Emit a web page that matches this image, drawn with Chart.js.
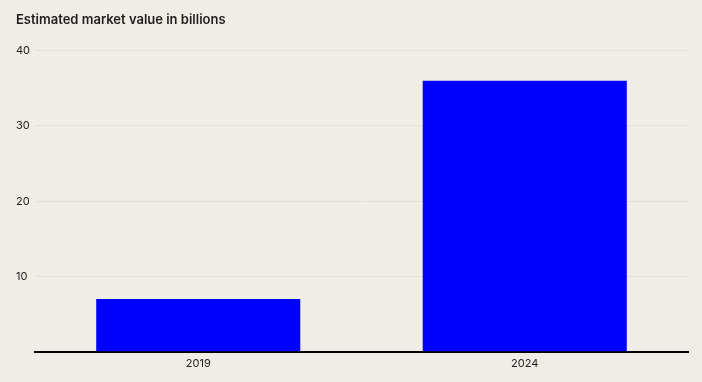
<!DOCTYPE html>
<html>
<head>
<meta charset="utf-8">
<script src="https://cdn.jsdelivr.net/npm/chart.js@4"></script>
<style>
  html, body { margin: 0; padding: 0; background: #f0ede6; }
  #wrap { width: 702px; height: 382px; position: relative; }
</style>
</head>
<body>
<div id="wrap"><canvas id="chart"></canvas></div>
<script>
// Data
const years = ["2019", "2024"];
const marketValue = [7, 36];
const yTicks = [0, 10, 20, 30, 40];

const ctx = document.getElementById("chart").getContext("2d");
new Chart(ctx, {
  type: "bar",
  data: {
    labels: years,
    datasets: [{
      data: marketValue,
      backgroundColor: "#0000ff",
      borderWidth: 0,
      categoryPercentage: 1,
      barPercentage: 0.625,
    }],
  },
  options: {
    responsive: true,
    maintainAspectRatio: false,
    animation: false,
    layout: { padding: { left: 16, right: 14, top: 0, bottom: 15 } },
    plugins: {
      legend: { display: false },
      tooltip: { enabled: false },
      title: {
        display: true,
        text: "Estimated market value in billions",
        align: "start",
        color: "#1e1e1e",
        font: { family: "Inter", size: 13, weight: "600" },
        padding: { top: 12, bottom: 23 },
      },
    },
    scales: {
      x: {
        grid: { display: false },
        border: { display: true, color: "#000000", width: 2 },
        ticks: {
          color: "#222222",
          font: { family: "Inter", size: 11 },
          padding: -3,
        },
      },
      y: {
        min: 0,
        max: 40,
        afterBuildTicks: (scale) => {
          scale.ticks = yTicks.map((v) => ({ value: v }));
        },
        afterFit: (scale) => { scale.width = 19; },
        grid: { color: "#e4e1d9", drawTicks: false, lineWidth: 1 },
        border: { display: false },
        ticks: {
          color: "#222222",
          font: { family: "Inter", size: 11 },
          padding: 0,
          crossAlign: "far",
          callback: (v) => (v === 0 ? "" : v),
        },
      },
    },
  },
});
</script>
</body>
</html>
